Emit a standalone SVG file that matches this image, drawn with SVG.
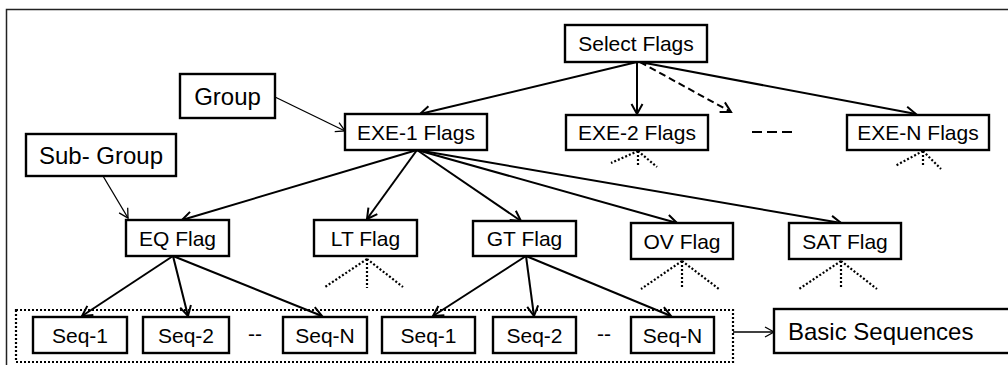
<svg xmlns="http://www.w3.org/2000/svg" width="1008" height="365" viewBox="0 0 1008 365">
<defs>
<marker id="ah" markerUnits="userSpaceOnUse" markerWidth="14" markerHeight="14" refX="10" refY="6" orient="auto" overflow="visible">
<path d="M0,0.5 L10,6 L0,11.5" fill="none" stroke="#000" stroke-width="2"/>
</marker>
<marker id="ahs" markerUnits="userSpaceOnUse" markerWidth="12" markerHeight="12" refX="9" refY="5" orient="auto" overflow="visible">
<path d="M0,0 L9,5 L0,10" fill="none" stroke="#000" stroke-width="1.3"/>
</marker>
</defs>
<style>
.box{fill:#fff;stroke:#000;stroke-width:2.4}
.t{font-family:"Liberation Sans",Arial,sans-serif;font-size:21px;fill:#000;text-anchor:middle}
.tl{font-family:"Liberation Sans",Arial,sans-serif;font-size:24px;fill:#000;text-anchor:middle}
.c{fill:none;stroke:#000;stroke-width:2;marker-end:url(#ah)}
.cs{fill:none;stroke:#000;stroke-width:1.3;marker-end:url(#ahs)}
.dash{fill:none;stroke:#000;stroke-width:2;stroke-dasharray:7 4;marker-end:url(#ah)}
.dot{fill:none;stroke:#000;stroke-width:2.2;stroke-dasharray:2 2}
</style>
<rect x="6.5" y="9.5" width="1010" height="400" fill="#fff" stroke="#222" stroke-width="1.5"/>
<rect x="16" y="310" width="717" height="52" class="dot" stroke-width="2.6"/>
<g id="connectors">
<path class="c" d="M637,62 L420,114"/>
<path class="c" d="M637,62 L637,114"/>
<path class="dash" d="M640,62 L731,112"/>
<path class="c" d="M640,62 L916,114"/>
<path class="cs" d="M275,97 L345,131"/>
<path class="cs" d="M103,176 L128,218"/>
<path class="c" d="M417,150 L182,220"/>
<path class="c" d="M417,150 L367,219"/>
<path class="c" d="M417,150 L521,221"/>
<path class="c" d="M417,150 L677,223"/>
<path class="c" d="M417,150 L841,223"/>
<path class="c" d="M173,256 L82,316"/>
<path class="c" d="M173,256 L188,316"/>
<path class="c" d="M173,256 L322,316"/>
<path class="c" d="M526,256 L433,316"/>
<path class="c" d="M526,256 L534,316"/>
<path class="c" d="M526,256 L671,316"/>
<path class="cs" d="M733,332 L774,332"/>
<path d="M752,132 L792,132" stroke="#000" stroke-width="2" stroke-dasharray="10 5"/>
<path class="dot" d="M638,151 L611,163 M638,151 L638,167 M638,151 L657,167"/>
<path class="dot" d="M923,151 L895,166 M923,151 L923,167 M923,151 L941,169"/>
<path class="dot" d="M367,259 L325,287 M367,259 L367,288 M367,259 L403,287"/>
<path class="dot" d="M682,261 L641,289 M682,261 L682,289 M682,261 L719,289"/>
<path class="dot" d="M841,261 L799,289 M841,261 L841,289 M841,261 L877,289"/>
</g>
<g id="select"><rect class="box" x="565" y="25" width="142" height="37"/><text class="t" x="636" y="51">Select Flags</text></g>
<g id="group"><rect class="box" x="180" y="74" width="95" height="44"/><text class="tl" x="227.5" y="104.5">Group</text></g>
<g id="exe1"><rect class="box" x="345" y="114" width="142" height="36"/><text class="t" x="416" y="139.5">EXE-1 Flags</text></g>
<g id="exe2"><rect class="box" x="566" y="115" width="142" height="35"/><text class="t" x="637" y="140">EXE-2 Flags</text></g>
<g id="exen"><rect class="box" x="847" y="115" width="142" height="35"/><text class="t" x="918" y="140">EXE-N Flags</text></g>
<g id="subgroup"><rect class="box" x="26" y="134" width="150" height="42"/><text class="tl" x="101" y="163.5">Sub- Group</text></g>
<g id="eq"><rect class="box" x="126" y="220" width="103" height="36"/><text class="t" x="177.5" y="245.5">EQ Flag</text></g>
<g id="lt"><rect class="box" x="314" y="220" width="103" height="36"/><text class="t" x="365.5" y="245.5">LT Flag</text></g>
<g id="gt"><rect class="box" x="473" y="221" width="103" height="35"/><text class="t" x="524.5" y="246">GT Flag</text></g>
<g id="ov"><rect class="box" x="631" y="223" width="102" height="36"/><text class="t" x="682" y="248.5">OV Flag</text></g>
<g id="sat"><rect class="box" x="789" y="223" width="112" height="36"/><text class="t" x="845" y="248.5">SAT Flag</text></g>
<g id="seq1a"><rect class="box" x="33" y="317" width="94" height="36"/><text class="t" x="80" y="342.5">Seq-1</text></g>
<g id="seq2a"><rect class="box" x="143" y="317" width="86" height="36"/><text class="t" x="186" y="342.5">Seq-2</text></g>
<text class="t" x="255" y="341">--</text>
<g id="seqna"><rect class="box" x="283" y="317" width="84" height="36"/><text class="t" x="325" y="342.5">Seq-N</text></g>
<g id="seq1b"><rect class="box" x="382" y="317" width="93" height="36"/><text class="t" x="428.5" y="342.5">Seq-1</text></g>
<g id="seq2b"><rect class="box" x="493" y="317" width="83" height="36"/><text class="t" x="534.5" y="342.5">Seq-2</text></g>
<text class="t" x="604" y="341">--</text>
<g id="seqnb"><rect class="box" x="631" y="317" width="83" height="36"/><text class="t" x="672.5" y="342.5">Seq-N</text></g>
<g id="basic"><rect class="box" x="774" y="309" width="245" height="44"/><text class="tl" x="788" y="339.5" style="text-anchor:start">Basic Sequences</text></g>
</svg>
